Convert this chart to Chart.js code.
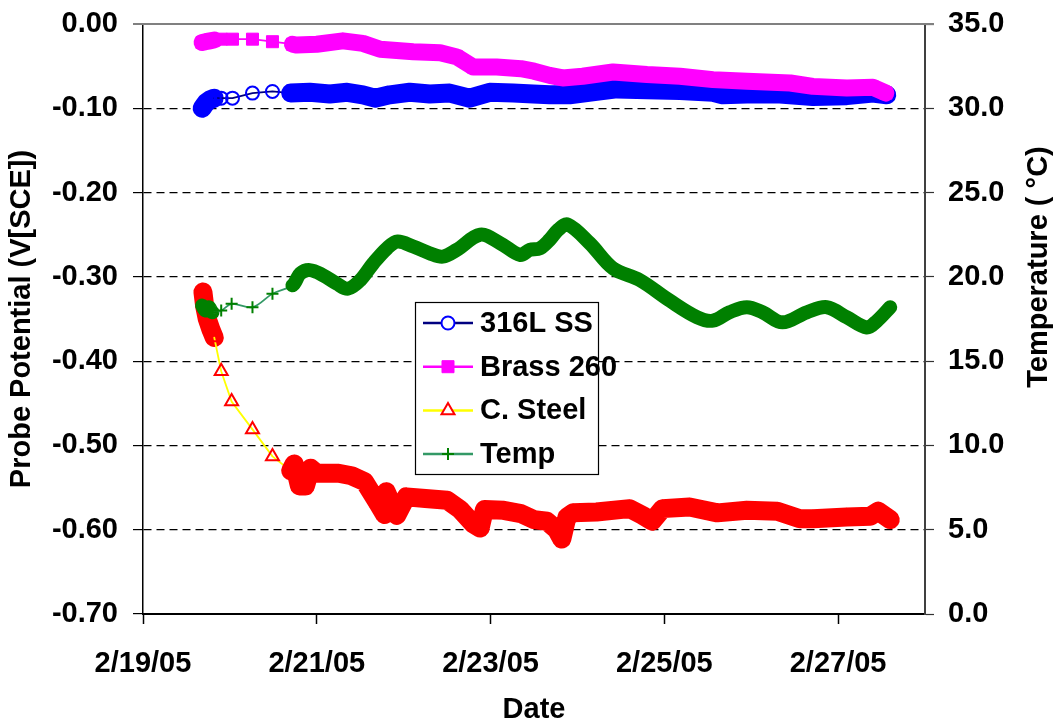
<!DOCTYPE html>
<html>
<head>
<meta charset="utf-8">
<script src="https://cdn.jsdelivr.net/npm/chart.js@4/dist/chart.umd.min.js"></script>
<style>
  html, body { margin: 0; padding: 0; background: #fff; }
  canvas { display: block; }
</style>
</head>
<body>
<canvas id="c" width="1056" height="726" style="width:1056px;height:726px"></canvas>
<script>
// ---- Data (x = days after 2/19/05 00:00) ----
const xTicks = [0, 2, 4, 6, 8];
const xTickLabels = ['2/19/05', '2/21/05', '2/23/05', '2/25/05', '2/27/05'];
const leftTicks = [0, -0.1, -0.2, -0.3, -0.4, -0.5, -0.6, -0.7];
const leftTickLabels = ['0.00', '-0.10', '-0.20', '-0.30', '-0.40', '-0.50', '-0.60', '-0.70'];
const rightTicks = [0, 5, 10, 15, 20, 25, 30, 35];
const rightTickLabels = ['0.0', '5.0', '10.0', '15.0', '20.0', '25.0', '30.0', '35.0'];

const seriesNames = ['316L SS', 'Brass 260', 'C. Steel', 'Temp'];

const ssDays = [0.68,0.70,0.73,0.77,0.82, 0.90,1.03,1.26,1.49,
  1.70,1.92,2.15,2.35,2.53,2.67,2.84,3.07,3.30,3.53,3.76,3.99,4.26,4.49,4.68,4.91,5.22,5.45,5.80,6.18,6.56,6.67,6.95,7.33,7.71,8.10,8.40,8.56];
const ssValues = [-0.100,-0.097,-0.093,-0.090,-0.088, -0.088,-0.088,-0.082,-0.080,
  -0.082,-0.081,-0.083,-0.081,-0.084,-0.088,-0.084,-0.081,-0.083,-0.082,-0.088,-0.081,-0.082,-0.083,-0.084,-0.084,-0.080,-0.077,-0.078,-0.079,-0.081,-0.084,-0.083,-0.083,-0.086,-0.085,-0.082,-0.084];

const brDays = [0.68,0.72,0.77,0.82, 0.90,1.03,1.26,1.49,
  1.72,1.77,2.00,2.30,2.53,2.73,3.11,3.42,3.61,3.80,4.07,4.35,4.50,4.68,4.83,5.06,5.41,5.80,6.18,6.56,6.95,7.45,7.71,8.10,8.40,8.55];
const brValues = [-0.022,-0.021,-0.020,-0.019, -0.018,-0.018,-0.018,-0.021,
  -0.024,-0.025,-0.024,-0.020,-0.023,-0.030,-0.033,-0.034,-0.039,-0.051,-0.051,-0.053,-0.056,-0.061,-0.064,-0.062,-0.057,-0.060,-0.062,-0.066,-0.068,-0.070,-0.074,-0.076,-0.075,-0.082];

const csDays = [0.69,0.71,0.74,0.78,0.82, 0.90,1.02,1.26,1.49,
  1.70,1.74,1.80,1.87,1.93,2.00,2.25,2.40,2.55,2.70,2.78,2.80,2.92,3.03,3.25,3.50,3.65,3.80,3.88,3.93,4.15,4.35,4.50,4.65,4.76,4.82,4.88,4.95,5.22,5.60,5.75,5.86,5.98,6.29,6.61,6.95,7.30,7.56,7.71,8.10,8.37,8.46,8.60];
const csValues = [-0.318,-0.335,-0.350,-0.362,-0.372, -0.412,-0.448,-0.481,-0.513,
  -0.530,-0.522,-0.548,-0.548,-0.527,-0.533,-0.533,-0.536,-0.543,-0.568,-0.582,-0.555,-0.583,-0.561,-0.563,-0.565,-0.576,-0.593,-0.598,-0.576,-0.577,-0.581,-0.588,-0.590,-0.600,-0.611,-0.585,-0.580,-0.579,-0.575,-0.583,-0.590,-0.575,-0.573,-0.580,-0.577,-0.578,-0.587,-0.587,-0.585,-0.584,-0.578,-0.588];

const tpDays = [0.68,0.72,0.76,0.80, 0.90,1.02,1.26,1.49,
  1.72,1.81,1.92,2.07,2.23,2.36,2.50,2.65,2.81,2.93,3.11,3.30,3.45,3.61,3.88,4.11,4.34,4.45,4.57,4.68,4.78,4.89,5.14,5.41,5.72,6.06,6.38,6.56,6.75,6.95,7.13,7.36,7.64,7.87,8.10,8.33,8.45,8.60];
const tpValues = [18.3,18.0,18.2,17.9, 18.0,18.4,18.2,19.0,
  19.5,20.2,20.4,20.1,19.6,19.3,19.8,20.8,21.7,22.1,21.8,21.4,21.2,21.6,22.5,22.0,21.3,21.6,21.7,22.2,22.8,23.1,22.0,20.5,19.8,18.6,17.6,17.4,17.9,18.2,17.9,17.3,17.9,18.2,17.6,17.0,17.4,18.2];

// ---- Styling ----
const FONT = "'Liberation Sans', Arial, Helvetica, sans-serif";
const SPARSE_FROM = 0.85, SPARSE_TO = 1.70;   // sparsely sampled stretch: thin line + markers
const isThin = c => c.p1.parsed.x > SPARSE_FROM && c.p0.parsed.x < SPARSE_TO;

const styles = [
  { line: '#000080', mark: '#0000FF', band: 19, point: 'circle',   radius: 6.5, fill: 'rgba(0,0,0,0)', pbw: 2, tension: 0 },
  { line: '#FF00FF', mark: '#FF00FF', band: 17, point: 'rect',     radius: 8.5, fill: '#FF00FF',        pbw: 1, tension: 0 },
  { line: '#FFFF00', mark: '#FF0000', band: 19, point: 'triangle', radius: 7.5, fill: 'rgba(0,0,0,0)', pbw: 2, tension: 0 },
  { line: '#339966', mark: '#008000', band: 14, point: 'cross',    radius: 6,   fill: '#008000',        pbw: 2, tension: 0.35 }
];

const pts = (d, v) => d.map((x, i) => ({ x: x, y: v[i] }));
const seriesData = [pts(ssDays, ssValues), pts(brDays, brValues), pts(csDays, csValues), pts(tpDays, tpValues)];
const axisIds = ['y', 'y', 'y', 'y2'];

const datasets = seriesData.map((data, i) => {
  const s = styles[i];
  return {
    label: seriesNames[i],
    data: data,
    yAxisID: axisIds[i],
    order: 4 - i,
    showLine: true,
    tension: s.tension,
    borderColor: s.mark,
    borderWidth: s.band,
    borderCapStyle: 'round',
    borderJoinStyle: 'round',
    segment: {
      borderWidth: c => isThin(c) ? 1.8 : s.band,
      borderColor: c => isThin(c) ? s.line : s.mark
    },
    pointStyle: s.point,
    pointRadius: s.radius,
    pointBorderColor: s.mark,
    pointBackgroundColor: s.fill,
    pointBorderWidth: s.pbw,
    pointHoverRadius: s.radius
  };
});

const tickFont = { family: FONT, size: 29, weight: 'bold' };

function drawMarker(ctx, style, x, y) {
  const s = style;
  ctx.save();
  ctx.strokeStyle = s.mark; ctx.fillStyle = s.fill; ctx.lineWidth = s.pbw;
  ctx.beginPath();
  if (s.point === 'circle') {
    ctx.arc(x, y, s.radius, 0, Math.PI * 2);
    ctx.fillStyle = '#fff'; ctx.fill(); ctx.stroke();
  } else if (s.point === 'rect') {
    const h = s.radius / Math.SQRT2;
    ctx.rect(x - h, y - h, 2 * h, 2 * h); ctx.fill(); ctx.stroke();
  } else if (s.point === 'triangle') {
    const r = s.radius;
    ctx.moveTo(x, y - r);
    ctx.lineTo(x + r * Math.cos(Math.PI / 6), y + r * 0.5);
    ctx.lineTo(x - r * Math.cos(Math.PI / 6), y + r * 0.5);
    ctx.closePath();
    ctx.fillStyle = '#fff'; ctx.fill(); ctx.stroke();
  } else {
    ctx.moveTo(x - s.radius, y); ctx.lineTo(x + s.radius, y);
    ctx.moveTo(x, y - s.radius); ctx.lineTo(x, y + s.radius);
    ctx.stroke();
  }
  ctx.restore();
}

const decor = {
  id: 'decor',
  afterDraw(chart) {
    const ctx = chart.ctx, a = chart.chartArea;
    ctx.save();
    // top frame line (0.00 gridline, solid grey)
    ctx.strokeStyle = '#808080'; ctx.lineWidth = 2;
    ctx.beginPath(); ctx.moveTo(a.left - 10, a.top); ctx.lineTo(a.right + 9, a.top); ctx.stroke();

    // legend box
    const L = { x: 415, y: 302, w: 183, h: 172, row: 43.7, first: 323 };
    ctx.fillStyle = '#fff'; ctx.fillRect(L.x, L.y, L.w, L.h);
    ctx.strokeStyle = '#000'; ctx.lineWidth = 1.2; ctx.strokeRect(L.x + 0.5, L.y + 0.5, L.w, L.h);
    ctx.font = 'bold 29px ' + FONT; ctx.textAlign = 'left'; ctx.textBaseline = 'middle';
    seriesNames.forEach((name, i) => {
      const yy = L.first + i * L.row;
      const s = styles[i];
      ctx.strokeStyle = s.line; ctx.lineWidth = 2.5;
      ctx.beginPath(); ctx.moveTo(423, yy); ctx.lineTo(473, yy); ctx.stroke();
      drawMarker(ctx, s, 448, yy);
      ctx.fillStyle = '#000';
      ctx.fillText(name, 480, yy + 1);
    });

    // right axis title (reads bottom-to-top)
    ctx.translate(1039, 267);
    ctx.rotate(-Math.PI / 2);
    ctx.textAlign = 'center'; ctx.textBaseline = 'middle';
    ctx.fillStyle = '#000';
    ctx.fillText('Temperature ( \u00B0C)', 0, 0);
    ctx.restore();
  }
};

const noVPad = sc => { sc.paddingTop = 0; sc.paddingBottom = 0; };

new Chart(document.getElementById('c'), {
  type: 'scatter',
  data: { datasets: datasets },
  plugins: [decor],
  options: {
    responsive: false,
    animation: false,
    events: [],
    devicePixelRatio: 1,
    layout: { padding: { top: 24, left: 0, right: 0, bottom: 0 } },
    plugins: { legend: { display: false }, tooltip: { enabled: false } },
    scales: {
      x: {
        type: 'linear', position: 'bottom', min: 0, max: 9,
        afterBuildTicks: sc => { sc.ticks = xTicks.map(v => ({ value: v })); },
        afterFit: sc => { sc.height = 112; sc.paddingLeft = 0; sc.paddingRight = 0; },
        ticks: {
          font: tickFont, color: '#000', padding: 23, maxRotation: 0, autoSkip: false,
          callback: v => xTickLabels[xTicks.indexOf(v)]
        },
        grid: { drawOnChartArea: false, drawTicks: true, tickLength: 10, tickColor: '#000', tickWidth: 1.5 },
        border: { display: true, color: '#000', width: 2 },
        title: { display: true, text: 'Date', font: tickFont, color: '#000', padding: { top: 0, bottom: -1 } }
      },
      y: {
        type: 'linear', position: 'left', min: -0.7, max: 0,
        afterBuildTicks: sc => { sc.ticks = leftTicks.map(v => ({ value: v })); },
        afterFit: sc => { sc.width = 143; noVPad(sc); },
        ticks: {
          font: tickFont, color: '#000', padding: 15,
          callback: v => leftTickLabels[leftTicks.indexOf(v)]
        },
        grid: {
          drawOnChartArea: true, drawTicks: true, tickLength: 10, tickColor: '#000', tickWidth: 1.2,
          lineWidth: 1.2,
          color: c => (c.tick && (c.tick.value === 0 || c.tick.value === -0.7)) ? 'rgba(0,0,0,0)' : '#000'
        },
        border: { display: true, color: '#000', width: 1.5, dash: [8, 5] },
        title: { display: true, text: 'Probe Potential (V[SCE])', font: tickFont, color: '#000', padding: { top: 5, bottom: 0 } }
      },
      y2: {
        type: 'linear', position: 'right', min: 0, max: 35,
        afterBuildTicks: sc => { sc.ticks = rightTicks.map(v => ({ value: v })); },
        afterFit: sc => { sc.width = 131; noVPad(sc); },
        ticks: {
          font: tickFont, color: '#000', padding: 14,
          callback: v => rightTickLabels[rightTicks.indexOf(v)]
        },
        grid: { drawOnChartArea: false, drawTicks: true, tickLength: 9, tickColor: '#333', tickWidth: 1.2 },
        border: { display: true, color: '#404040', width: 2 },
        title: { display: false }
      }
    }
  }
});
</script>
</body>
</html>
